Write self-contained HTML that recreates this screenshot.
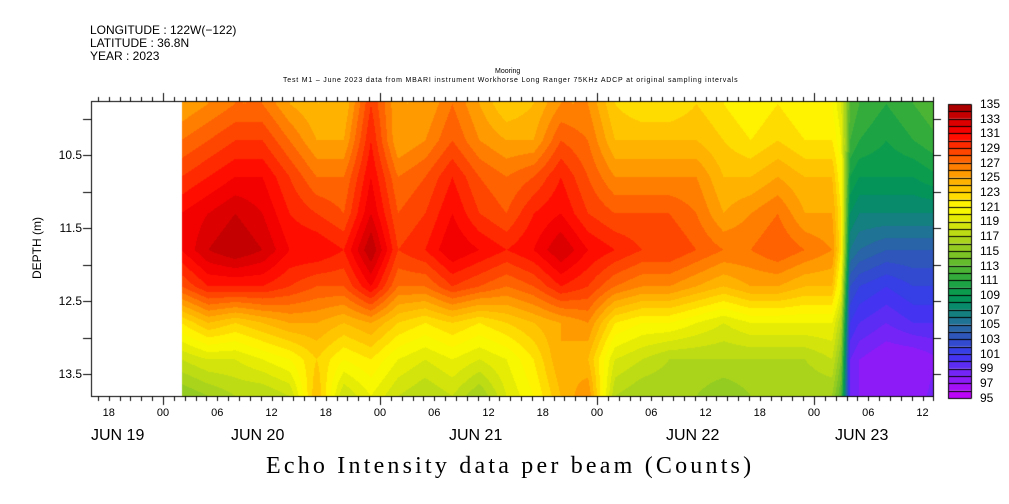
<!DOCTYPE html>
<html><head><meta charset="utf-8">
<style>
body{margin:0;background:#fff;width:1009px;height:504px;overflow:hidden;position:relative;font-family:"Liberation Sans",sans-serif;}
.t{position:absolute;white-space:nowrap;color:#000;}
</style></head>
<body>
<div class="t" style="left:90px;top:23px;font-size:12px;">LONGITUDE : 122W(−122)</div>
<div class="t" style="left:90px;top:36px;font-size:12px;">LATITUDE : 36.8N</div>
<div class="t" style="left:90px;top:49px;font-size:12px;">YEAR : 2023</div>
<div class="t" style="left:495px;top:68px;font-size:7px;">Mooring</div>
<div class="t" style="left:283px;top:77px;font-size:7px;letter-spacing:0.8px;">Test M1 – June 2023 data from MBARI instrument Workhorse Long Ranger 75KHz ADCP at original sampling intervals</div>
<div class="t" style="left:-3px;top:241px;font-size:12px;transform:rotate(-90deg);width:80px;text-align:center;">DEPTH (m)</div>
<div class="t" style="left:266px;top:453px;font-size:24px;letter-spacing:3.2px;font-family:'Liberation Serif',serif;">Echo Intensity data per beam (Counts)</div>
<canvas id="c" width="1009" height="504" style="position:absolute;left:0;top:0;"></canvas>
<div id="labels"></div>
<script>
const times=[2,5,8,11,14,17,20,23,26,29,32,35,38,41,44,47,50,53,56,59,62,65,68,71,74,75,76,77,80,83,86];
const depths=[9.8,10.3,10.8,11.3,11.8,12.3,12.8,13.3,13.8];
const values=[
[125,127,129,131,131,128,122,118,115],
[126,128,130,132,133,130,124,119,116],
[127,129,131,133,134,130,123,119,117],
[127,129,131,132,133,130,124,120,117],
[125,127,129,130,131,129,125,121,118],
[124,125,127,129,131,128,125,123,124],
[124,125,127,128,130,128,124,121,118],
[129,130,131,132,134,131,125,122,120],
[125,125,127,128,129,127,123,120,118],
[125,126,128,129,130,127,122,119,117],
[127,128,130,131,132,129,123,120,118],
[125,126,128,129,131,128,122,119,116],
[123,125,127,128,130,127,123,120,119],
[124,125,128,130,131,128,124,122,121],
[126,128,130,131,133,130,125,125,124],
[126,127,128,129,131,129,126,124,126],
[123,124,126,128,130,127,122,119,117],
[122,124,126,128,129,126,121,118,116],
[122,124,126,128,129,126,121,117,116],
[123,124,126,127,128,125,120,117,116],
[122,123,124,125,127,124,119,117,115],
[121,122,124,126,127,125,120,117,116],
[122,123,125,127,128,125,120,117,116],
[121,122,124,125,127,124,120,117,116],
[121,122,124,125,126,124,120,118,116],
[119,120,121,122,122,120,117,115,113],
[113,112,110,108,106,103,101,99,99],
[112,111,109,107,105,102,100,98,98],
[111,110,109,107,104,101,99,97,97],
[112,111,109,107,104,102,100,97,97],
[113,112,110,107,104,102,100,98,99]];
const levelLabels=[135,133,131,129,127,125,123,121,119,117,115,113,111,109,107,105,103,101,99,97,95];
const yTicks=[10.5,11.5,12.5,13.5];
const hourLabels=["18","00","06","12","18","00","06","12","18","00","06","12","18","00","06","12"];
const hourLabelTimes=[-6,0,6,12,18,24,30,36,42,48,54,60,66,72,78,84];
const dayLabels=["JUN 19","JUN 20","JUN 21","JUN 22","JUN 23"];
const dayLabelX=[91,231,449,666,835];

const X0=91,X1=934,Y0=101,Y1=397;
const hx=h=>163+h*(217/24);
const dy=d=>228+(d-11.5)*73;
const invX=x=>(x-163)/(217/24);
const invY=y=>11.5+(y-228)/73;
const stops=[[95,[200,0,248]],[98,[128,32,248]],[101,[56,56,240]],[104,[44,92,176]],[106,[26,122,138]],[108,[0,144,96]],[110,[16,160,72]],[112,[64,176,56]],[114,[112,192,40]],[116,[160,208,32]],[118,[200,224,16]],[120,[240,240,0]],[121,[255,255,0]],[123,[255,208,0]],[125,[255,168,0]],[127,[255,112,0]],[129,[255,56,0]],[131,[255,0,0]],[133,[208,0,0]],[135,[160,0,0]]];
function col(v){v=Math.max(95,Math.min(134.99,v));v=Math.floor(v)+0.5;
 for(let i=0;i<stops.length-1;i++){const a=stops[i],b=stops[i+1];if(v<=b[0]){const t=(v-a[0])/(b[0]-a[0]);return a[1].map((c,k)=>Math.round(c+(b[1][k]-c)*t));}}
 return stops[stops.length-1][1];}
const cv=document.getElementById('c'),ctx=cv.getContext('2d');
const img=ctx.createImageData(X1-X0,Y1-Y0);
const tStart=hx(times[0]);
for(let y=Y0;y<Y1;y++){let d=invY(y+0.5);d=Math.max(depths[0],Math.min(depths[depths.length-1],d));
 let j=0;while(j<depths.length-2&&d>depths[j+1])j++;const fy=(d-depths[j])/(depths[j+1]-depths[j]);
 for(let x=X0;x<X1;x++){const idx=((y-Y0)*(X1-X0)+(x-X0))*4;
  if(x<tStart){img.data[idx]=255;img.data[idx+1]=255;img.data[idx+2]=255;img.data[idx+3]=255;continue;}
  let h=Math.min(times[times.length-1],invX(x+0.5));let i=0;while(i<times.length-2&&h>times[i+1])i++;
  const fx=Math.max(0,Math.min(1,(h-times[i])/(times[i+1]-times[i])));
  const v=(values[i][j]*(1-fx)+values[i+1][j]*fx)*(1-fy)+(values[i][j+1]*(1-fx)+values[i+1][j+1]*fx)*fy;
  const c=col(v);img.data[idx]=c[0];img.data[idx+1]=c[1];img.data[idx+2]=c[2];img.data[idx+3]=255;}}
ctx.putImageData(img,X0,Y0);
ctx.strokeStyle='#000';ctx.lineWidth=1;ctx.strokeRect(X0+0.5,Y0+0.5,X1-X0-1,Y1-Y0-1);
ctx.beginPath();
for(let k=-20;k<=100;k++){const x=Math.round(163+k*217/20)+0.5;if(x<X0||x>X1)continue;const maj=k%20===0;
 ctx.moveTo(x,Y0);ctx.lineTo(x,Y0-(maj?8:4));ctx.moveTo(x,Y1);ctx.lineTo(x,Y1+(maj?8:4));}
for(let d=10;d<=13.5;d+=0.5){const y=Math.round(dy(d))+0.5;ctx.moveTo(X0-8,y);ctx.lineTo(X0,y);ctx.moveTo(X1,y);ctx.lineTo(X1+7,y);}
ctx.stroke();
const CB0=104,CB1=398,CBX=948,CBW=23,n=40,bh=(CB1-CB0)/n;
for(let k=0;k<n;k++){const v=135-k-0.5;const c=col(v);ctx.fillStyle=`rgb(${c[0]},${c[1]},${c[2]})`;ctx.fillRect(CBX,CB0+k*bh,CBW,bh);}
ctx.beginPath();for(let k=0;k<=n;k++){const y=Math.round(CB0+k*bh)+0.5;ctx.moveTo(CBX,y);ctx.lineTo(CBX+CBW,y);}
ctx.rect(CBX+0.5,CB0+0.5,CBW,CB1-CB0);ctx.stroke();
const L=document.getElementById('labels');
function lab(txt,x,y,fs,name,align){const e=document.createElement('div');e.className='t';e.textContent=txt;e.style.fontSize=fs+'px';e.style.top=(y-fs*0.6)+'px';
 if(align==='r'){e.style.right=(1009-x)+'px';}else if(align==='c'){e.style.left=(x-40)+'px';e.style.width='80px';e.style.textAlign='center';}else e.style.left=x+'px';
 
 
 L.appendChild(e);}
levelLabels.forEach((v,k)=>lab(String(v),980,CB0+k*(CB1-CB0)/20,12,'colorbar-label','l'));
yTicks.forEach(d=>lab(d.toFixed(1),82,dy(d),12,'y-tick-label','r'));
hourLabels.forEach((t,k)=>lab(t,hx(hourLabelTimes[k]),414,11,'x-hour-label','c'));
dayLabels.forEach((t,k)=>lab(t,dayLabelX[k],437,16,'x-date-label','l'));
</script>
</body></html>
